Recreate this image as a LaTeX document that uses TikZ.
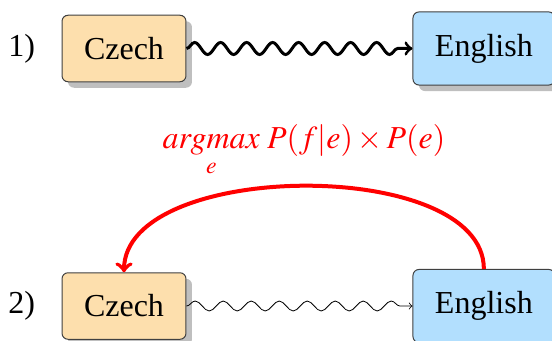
\documentclass[tikz,border=0pt]{standalone}
\usepackage{mathptmx}
\usepackage{fontspec}
\setmainfont{Liberation Serif}
\usetikzlibrary{positioning,shadows,decorations.pathmorphing}
\definecolor{CzechClr}{RGB}{253,223,173}
\definecolor{EnglishClr}{RGB}{178,223,254}

\begin{document}
\begin{tikzpicture}[font=\fontsize{16}{19}\selectfont,
  lang/.style={draw=black!75,line width=0.5pt,rounded corners=3pt,inner sep=11pt,
    drop shadow={shadow xshift=3pt,shadow yshift=-3pt}},
  wave/.style={decorate,decoration={snake,post length=2pt}}]

\useasboundingbox (0,0) rectangle (276pt,-170.5pt);

% First way: straight from Czech to English.
\node[lang,fill=CzechClr] (czech1) at (62pt,-24.25pt) {Czech};
\node[lang,fill=EnglishClr,right=113pt of czech1] (english1) {English};
\node[left=13pt of czech1,inner sep=0pt] (num1) {1)};

\draw[wave,->,line width=1.5pt,decoration={amplitude=3pt,segment length=13pt}]
  (czech1) -- (english1);

% Second way: through the noisy channel.
\node[lang,fill=CzechClr,below=95pt of czech1] (czech2) {Czech};
\node[lang,fill=EnglishClr,right=113pt of czech2] (english2) {English};
\node[left=13pt of czech2,inner sep=0pt] (num2) {2)};

\draw[wave,->,decoration={amplitude=2.5pt,segment length=14pt}]
  (czech2) -- (english2);

\draw[->,red,line width=2pt] (english2.north) to[out=90,in=90,looseness=0.8]
  node[above] {$\mathop{argmax}\limits_{e}\, P(f|e)\times P(e)$} (czech2.north);

\end{tikzpicture}
\end{document}
